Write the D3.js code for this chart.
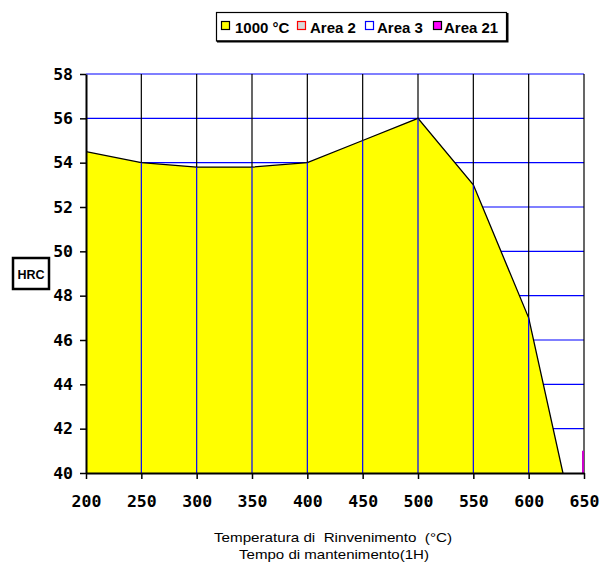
<!DOCTYPE html>
<html><head><meta charset="utf-8">
<script src="https://cdn.jsdelivr.net/npm/d3@7"></script>
<style>body{margin:0;background:#fff;}svg{display:block;}</style>
</head><body>
<svg id="c" width="601" height="564"></svg>
<script>
const temps = [200, 250, 300, 350, 400, 450, 500, 550, 600, 650];
const hrc1000 = [54.5, 54.0, 53.8, 53.8, 54.0, 55.0, 56.0, 53.0, 47.0, 35.7];
const area21 = [{x: 650, y0: 40, y1: 41}];
const xTicks = [200, 250, 300, 350, 400, 450, 500, 550, 600, 650];
const yTicks = [40, 42, 44, 46, 48, 50, 52, 54, 56, 58];
const legendItems = [
  {label: "1000 °C", fill: "#ffff00", stroke: "#000"},
  {label: "Area 2", fill: "#d8d8d8", stroke: "#ff0000"},
  {label: "Area 3", fill: "#ffffff", stroke: "#0000ff"},
  {label: "Area 21", fill: "#ff00ff", stroke: "#000"}
];

const svg = d3.select("#c");
const L = 86, R = 584, T = 74, B = 473;
const x = d3.scaleLinear().domain([200, 650]).range([L, R]);
const y = d3.scaleLinear().domain([40, 58]).range([B, T]);
const sans = "Arial, 'Liberation Sans', sans-serif";

svg.append("defs").append("clipPath").attr("id", "plot")
  .append("rect").attr("x", L).attr("y", T).attr("width", R - L).attr("height", B - T);

// gridlines
svg.append("g").selectAll("line").data(yTicks.filter(d => d > 40)).join("line")
  .attr("x1", L).attr("x2", R).attr("y1", d => y(d)).attr("y2", d => y(d))
  .attr("stroke", "#0000ff").attr("stroke-width", 1.2);
svg.append("g").selectAll("line").data(xTicks.filter(d => d > 200)).join("line")
  .attr("x1", d => x(d)).attr("x2", d => x(d)).attr("y1", T).attr("y2", B)
  .attr("stroke", "#000").attr("stroke-width", 1.2);

const data = temps.map((t, i) => ({t, v: hrc1000[i]}));
const area = d3.area().x(d => x(d.t)).y0(y(40)).y1(d => y(d.v));
const line = d3.line().x(d => x(d.t)).y(d => y(d.v));
const gp = svg.append("g").attr("clip-path", "url(#plot)");
gp.append("path").datum(data).attr("d", area).attr("fill", "#ffff00");

// blue vertical lines inside the area
const clip2 = svg.select("defs").append("clipPath").attr("id", "areaClip");
clip2.append("path").datum(data).attr("d", area);
const ga = svg.append("g").attr("clip-path", "url(#plot)").append("g").attr("clip-path", "url(#areaClip)");
ga.selectAll("line").data(xTicks.filter(d => d > 200 && d < 650)).join("line")
  .attr("x1", d => x(d)).attr("x2", d => x(d)).attr("y1", T).attr("y2", B)
  .attr("stroke", "#0000ff").attr("stroke-width", 1.2);

gp.append("path").datum(data).attr("d", line).attr("fill", "none")
  .attr("stroke", "#000").attr("stroke-width", 1.3);

// Area 21 sliver at 650
svg.append("g").selectAll("line").data(area21).join("line")
  .attr("x1", d => x(d.x) - 1).attr("x2", d => x(d.x) - 1)
  .attr("y1", d => y(d.y0)).attr("y2", d => y(d.y1))
  .attr("stroke", "#cc00cc").attr("stroke-width", 2);

// axes
const yAxis = d3.axisLeft(y).tickValues(yTicks).tickSize(6).tickSizeOuter(0).tickPadding(7);
const gy = svg.append("g").attr("transform", `translate(${L},0)`).call(yAxis);
const xAxis = d3.axisBottom(x).tickValues(xTicks).tickSize(6).tickSizeOuter(0).tickPadding(16);
const gx = svg.append("g").attr("transform", `translate(0,${B})`).call(xAxis);
[gy, gx].forEach(g => {
  g.select(".domain").attr("stroke", "#000").attr("stroke-width", 2);
  g.selectAll(".tick line").attr("stroke", "#000").attr("stroke-width", 1.5);
  g.selectAll(".tick text").attr("fill", "#000")
    .style("font-family", "'DejaVu Sans Mono', monospace").style("font-weight", "bold").style("font-size", "16.5px");
});

// axis titles
svg.append("text").attr("x", 333).attr("y", 542).attr("text-anchor", "middle")
  .style("font-family", sans).style("font-size", "13.5px").style("white-space", "pre")
  .attr("textLength", 238).attr("lengthAdjust", "spacingAndGlyphs")
  .text("Temperatura di  Rinvenimento  (°C)");
svg.append("text").attr("x", 334).attr("y", 559).attr("text-anchor", "middle")
  .style("font-family", sans).style("font-size", "13.5px")
  .attr("textLength", 190).attr("lengthAdjust", "spacingAndGlyphs")
  .text("Tempo di mantenimento(1H)");

// HRC box
svg.append("rect").attr("x", 13).attr("y", 258).attr("width", 36).attr("height", 31)
  .attr("fill", "#fff").attr("stroke", "#000").attr("stroke-width", 2.5);
svg.append("text").attr("x", 31).attr("y", 279).attr("text-anchor", "middle")
  .style("font-family", sans).style("font-size", "12.5px").style("font-weight", "bold")
  .text("HRC");

// legend
const lg = svg.append("g");
lg.append("rect").attr("x", 216.5).attr("y", 12.5).attr("width", 290).attr("height", 28.5)
  .attr("fill", "#fff").attr("stroke", "#000").attr("stroke-width", 1.2);
lg.append("path").attr("d", "M217,41.5 H507.5 V13").attr("fill", "none").attr("stroke", "#000").attr("stroke-width", 2);
const sqX = [221, 297, 365, 433];
const txX = [235, 310, 377, 444];
legendItems.forEach((it, i) => {
  lg.append("rect").attr("x", sqX[i] + 0.5).attr("y", 21.5).attr("width", 8).attr("height", 8)
    .attr("fill", it.fill).attr("stroke", it.stroke).attr("stroke-width", 1.2);
  lg.append("text").attr("x", txX[i]).attr("y", 32.5)
    .style("font-family", sans).style("font-size", "15px").style("font-weight", "bold")
    .text(it.label);
});
</script>
</body></html>
